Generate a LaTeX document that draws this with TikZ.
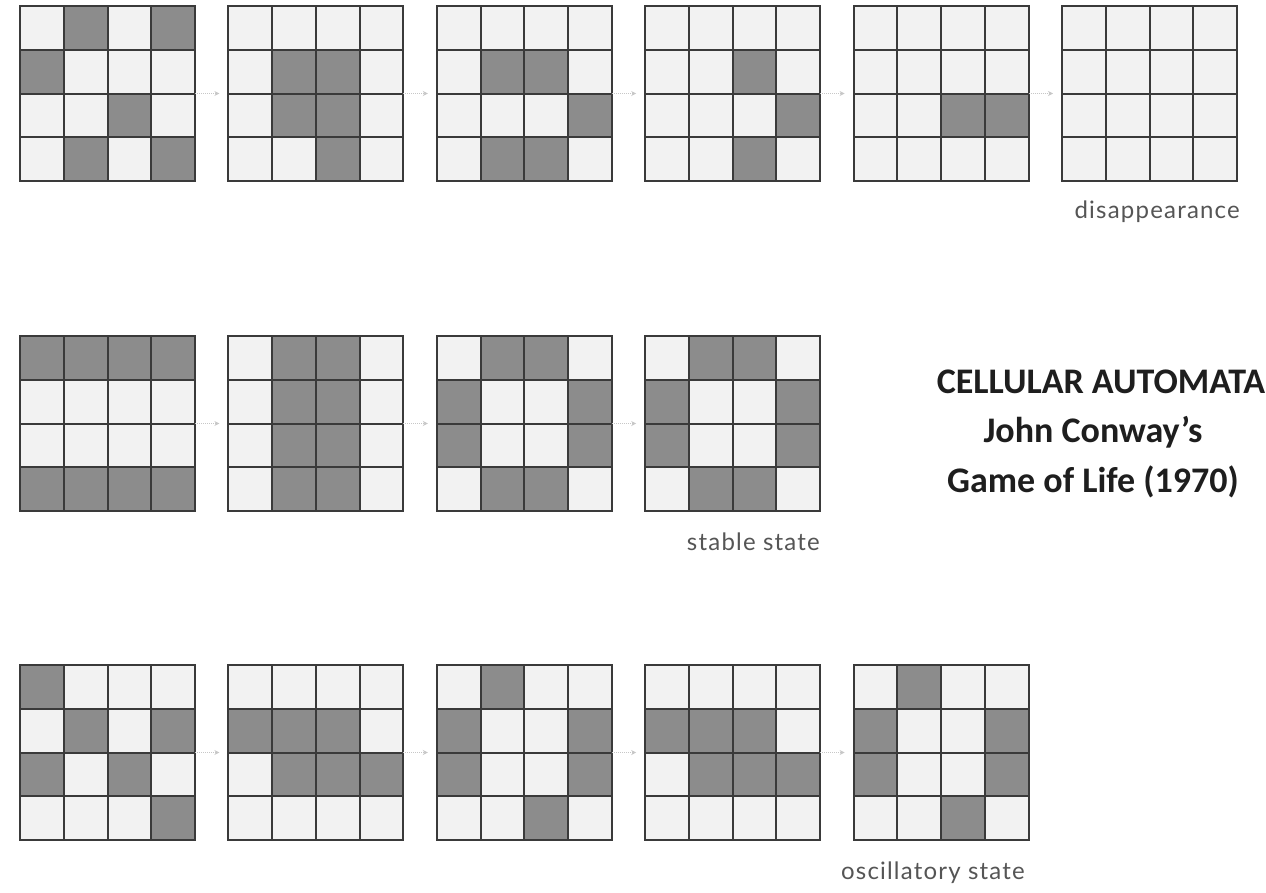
\documentclass[tikz,border=0pt]{standalone}
\usepackage{fontspec}
\setmainfont{Carlito}
\newfontfamily\labelfont[LetterSpace=5]{Lato}
\usetikzlibrary{arrows.meta}
\definecolor{live}{HTML}{8C8C8C}
\definecolor{dead}{HTML}{F2F2F2}
\definecolor{gridline}{HTML}{3A3A3A}
\definecolor{labelgray}{HTML}{555555}
\definecolor{titlegray}{HTML}{1E1E1E}
\tikzset{
  gridbox/.style={draw=gridline, line width=2pt, fill=dead, minimum size=175pt, inner sep=0pt, outer sep=0pt},
  cellline/.style={draw=gridline, line width=2pt},
  conn/.style={densely dotted, draw=black!22, line width=1pt, -{Stealth[length=5pt,width=5pt]}, shorten >=9pt},
  caption/.style={font=\labelfont\fontsize{24}{28}\selectfont, text=labelgray, anchor=base east, inner sep=0pt},
  titleline/.style={font=\bfseries\fontsize{36}{42}\selectfont, text=titlegray, anchor=base, inner sep=0pt}
}
% #1 name, #2 left x, #3 top y, #4 live cells row/col
\newcommand{\lifegrid}[4]{%
  \node[gridbox] (#1) at ({#2+87.5},{#3+87.5}) {};
  \foreach \r/\c in {#4}{\ifnum\r>0 \fill[live] ({#2+(\c-1)*43.75},{#3+(\r-1)*43.75}) rectangle +(43.75,43.75);\fi}
  \foreach \k in {1,2,3}{%
    \draw[cellline] ({#2+\k*43.75},#3) -- +(0,175);
    \draw[cellline] (#2,{#3+\k*43.75}) -- +(175,0);}
  \draw[cellline] (#1.north west) rectangle (#1.south east);
}
\begin{document}
\begin{tikzpicture}[x=1pt,y=-1pt]
\path[use as bounding box, fill=white] (0,0) rectangle (1266,892);
% row 1 : disappearance
\lifegrid{a1}{20}{6}{1/2,1/4,2/1,3/3,4/2,4/4}
\lifegrid{a2}{228.4}{6}{2/2,2/3,3/2,3/3,4/3}
\lifegrid{a3}{436.8}{6}{2/2,2/3,3/4,4/2,4/3}
\lifegrid{a4}{645.2}{6}{2/3,3/4,4/3}
\lifegrid{a5}{853.6}{6}{3/3,3/4}
\lifegrid{a6}{1062}{6}{0/0}
\draw[conn] (a1.east) -- (a2.west);
\draw[conn] (a2.east) -- (a3.west);
\draw[conn] (a3.east) -- (a4.west);
\draw[conn] (a4.east) -- (a5.west);
\draw[conn] (a5.east) -- (a6.west);
\node[caption] (capa) at (1240,218) {disappearance};
% row 2 : stable state
\lifegrid{b1}{20}{336}{1/1,1/2,1/3,1/4,4/1,4/2,4/3,4/4}
\lifegrid{b2}{228.4}{336}{1/2,1/3,2/2,2/3,3/2,3/3,4/2,4/3}
\lifegrid{b3}{436.8}{336}{1/2,1/3,2/1,2/4,3/1,3/4,4/2,4/3}
\lifegrid{b4}{645.2}{336}{1/2,1/3,2/1,2/4,3/1,3/4,4/2,4/3}
\draw[conn] (b1.east) -- (b2.west);
\draw[conn] (b2.east) -- (b3.west);
\draw[conn] (b3.east) -- (b4.west);
\node[caption] (capb) at (820,550) {stable state};
% row 3 : oscillatory state
\lifegrid{c1}{20}{665}{1/1,2/2,2/4,3/1,3/3,4/4}
\lifegrid{c2}{228.4}{665}{2/1,2/2,2/3,3/2,3/3,3/4}
\lifegrid{c3}{436.8}{665}{1/2,2/1,2/4,3/1,3/4,4/3}
\lifegrid{c4}{645.2}{665}{2/1,2/2,2/3,3/2,3/3,3/4}
\lifegrid{c5}{853.6}{665}{1/2,2/1,2/4,3/1,3/4,4/3}
\draw[conn] (c1.east) -- (c2.west);
\draw[conn] (c2.east) -- (c3.west);
\draw[conn] (c3.east) -- (c4.west);
\draw[conn] (c4.east) -- (c5.west);
\node[caption] (capc) at (1025,879) {oscillatory state};
% title
\node[titleline] (t1) at (1101,393) {CELLULAR AUTOMATA};
\node[titleline] (t2) at (1093,442) {John Conway’s};
\node[titleline] (t3) at (1093,492) {Game of Life (1970)};
\end{tikzpicture}
\end{document}
